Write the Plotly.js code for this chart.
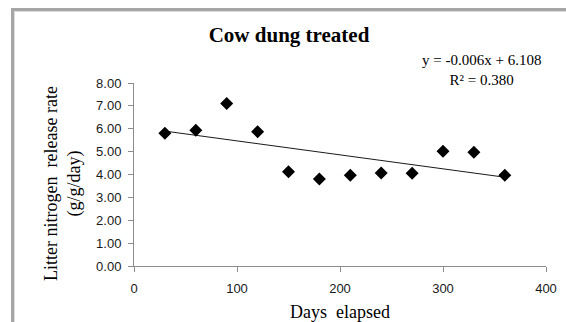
<!DOCTYPE html>
<html>
<head>
<meta charset="utf-8">
<script src="https://cdn.plot.ly/plotly-3.0.1.min.js"></script>
<style>
  html, body { margin: 0; padding: 0; background: #ffffff; overflow: hidden; }
  #frame { position: absolute; left: 11px; top: 8px; width: 600px; height: 400px;
           border: 3px solid #a6a6a6; box-shadow: inset 1px 1px 0 #dcdcdc; }
  #chart { position: absolute; left: 0; top: 0; width: 566px; height: 322px; }
</style>
</head>
<body>
<div id="frame"></div>
<div id="chart"></div>
<script>
// Data
const daysElapsed = [30, 60, 90, 120, 150, 180, 210, 240, 270, 300, 330, 360];
const releaseRate = [5.80, 5.93, 7.10, 5.87, 4.12, 3.80, 3.97, 4.07, 4.05, 5.02, 4.97, 3.97];
const yTickVals = [0, 1, 2, 3, 4, 5, 6, 7, 8];
const yTickText = ["0.00", "1.00", "2.00", "3.00", "4.00", "5.00", "6.00", "7.00", "8.00"];
const xTickVals = [0, 100, 200, 300, 400];
const chartTitle = "Cow dung treated";
const equationText = "y = -0.006x + 6.108<br>R² = 0.380";

// Least-squares trendline from the data
const n = daysElapsed.length;
const mx = daysElapsed.reduce((a, b) => a + b, 0) / n;
const my = releaseRate.reduce((a, b) => a + b, 0) / n;
let sxy = 0, sxx = 0;
for (let i = 0; i < n; i++) {
  sxy += (daysElapsed[i] - mx) * (releaseRate[i] - my);
  sxx += (daysElapsed[i] - mx) ** 2;
}
const slope = sxy / sxx;
const intercept = my - slope * mx;
const trendX = [daysElapsed[0], daysElapsed[n - 1]];
const trendY = trendX.map(x => intercept + slope * x);

const serif = "Liberation Serif, Times New Roman, serif";
const sans = "Liberation Sans, Arial, sans-serif";

const traces = [
  {
    x: trendX, y: trendY, type: "scatter", mode: "lines",
    line: { color: "#1a1a1a", width: 1 }, hoverinfo: "skip", showlegend: false
  },
  {
    x: daysElapsed, y: releaseRate, type: "scatter", mode: "markers",
    marker: { symbol: "diamond", size: 10, color: "#000000" }, showlegend: false
  }
];

const layout = {
  width: 566, height: 322,
  margin: { l: 134, r: 20, t: 83, b: 56, pad: 0 },
  paper_bgcolor: "rgba(0,0,0,0)",
  plot_bgcolor: "rgba(0,0,0,0)",
  showlegend: false,
  title: {
    text: "<b>" + chartTitle + "</b>",
    font: { family: serif, size: 21, color: "#000000" },
    x: 289 / 566, xref: "container", xanchor: "center",
    y: 1 - 35 / 322, yref: "container", yanchor: "middle"
  },
  xaxis: {
    range: [0, 400], tickvals: xTickVals, ticktext: xTickVals.map(String),
    showgrid: false, zeroline: false, showline: true,
    linecolor: "#8c8c8c", linewidth: 1,
    ticks: "outside", ticklen: 5, tickcolor: "#8c8c8c", tickwidth: 1,
    ticklabelstandoff: 5,
    tickfont: { family: sans, size: 13, color: "#1a1a1a" },
    title: { text: "Days  elapsed", font: { family: serif, size: 18, color: "#000000" }, standoff: 12 }
  },
  yaxis: {
    range: [0, 8], tickvals: yTickVals, ticktext: yTickText,
    showgrid: false, zeroline: false, showline: true,
    linecolor: "#8c8c8c", linewidth: 1,
    ticks: "outside", ticklen: 5, tickcolor: "#8c8c8c", tickwidth: 1,
    ticklabelstandoff: 4,
    tickfont: { family: sans, size: 13, color: "#1a1a1a" }
  },
  annotations: [
    {
      text: "Litter nitrogen  release rate<br>(g/g/day)",
      textangle: -90, xref: "paper", yref: "paper",
      x: -0.174, y: 0.45, xanchor: "center", yanchor: "middle",
      showarrow: false, font: { family: serif, size: 18, color: "#000000" }
    },
    {
      text: equationText, xref: "paper", yref: "paper",
      x: (481 - 134) / 411.7, y: (266 - 70) / 183, xanchor: "center", yanchor: "middle",
      align: "center", showarrow: false,
      font: { family: serif, size: 15, color: "#000000" }
    }
  ]
};

Plotly.newPlot("chart", traces, layout, { displayModeBar: false, staticPlot: true });
</script>
</body>
</html>
